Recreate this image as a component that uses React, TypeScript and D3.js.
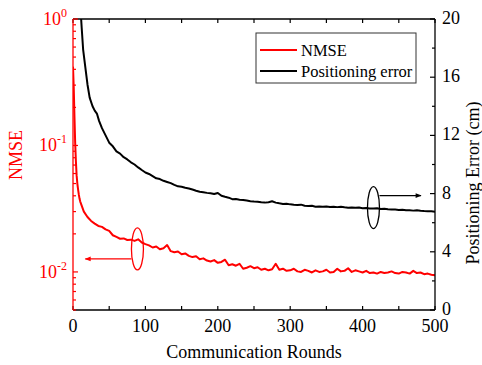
import React from 'react';
import * as d3 from 'd3';

const nmseRounds = [0,1,2,3,4,5,6,7,8,9,10,15,20,25,30,35,40,45,50,55,60,65,70,75,80,85,90,95,100,105,110,115,120,125,130,135,140,145,150,155,160,165,170,175,180,185,190,195,200,205,210,215,220,225,230,235,240,245,250,255,260,265,270,275,280,285,290,295,300,305,310,315,320,325,330,335,340,345,350,355,360,365,370,375,380,385,390,395,400,405,410,415,420,425,430,435,440,445,450,455,460,465,470,475,480,485,490,495,500];
const nmseValues = [0.42,0.29,0.17,0.105,0.075,0.058,0.05,0.045,0.041,0.038,0.036,
  0.030,0.0272,0.0253,0.0241,0.0231,0.0227,0.0217,0.0211,0.0195,0.0189,0.0183,0.0184,0.0179,0.0180,0.0176,0.0181,
  0.0171,0.0166,0.0162,0.0156,0.0159,0.0151,0.0154,0.0163,0.0146,0.0143,0.0145,0.0138,0.0140,0.0134,0.0131,0.0133,
  0.0126,0.0128,0.0123,0.0121,0.0124,0.0118,0.0120,0.0125,0.0113,0.0115,0.0112,0.0116,0.0106,0.0108,0.0111,0.0107,
  0.0109,0.0104,0.0106,0.0103,0.0105,0.0116,0.0104,0.0106,0.0102,0.0103,0.0106,0.0101,0.0100,0.0104,0.0102,0.0099,
  0.0103,0.0100,0.0101,0.0104,0.0099,0.0100,0.0106,0.0101,0.0102,0.0107,0.0100,0.0103,0.0101,0.0099,0.0102,0.0098,
  0.0099,0.0097,0.0100,0.0098,0.0099,0.0101,0.0098,0.0097,0.0100,0.0099,0.0097,0.0102,0.0098,0.0099,0.0096,0.0097,
  0.0095,0.0094];

const errRounds = [10,12,14,17,20,23,27,30,33,36,40,45,50,55,60,65,70,75,80,85,90,95,100,105,110,115,120,125,130,135,140,145,150,155,160,165,170,175,180,185,190,195,200,205,210,215,220,225,230,235,240,245,250,255,260,265,270,275,280,285,290,295,300,305,310,315,320,325,330,335,340,345,350,355,360,365,370,375,380,385,390,395,400,405,410,415,420,425,430,435,440,445,450,455,460,465,470,475,480,485,490,495,500];
const errValues = [21.0,19.4,17.9,16.7,15.5,14.6,14.0,13.7,13.5,13.0,12.5,12.0,11.5,11.25,10.9,10.75,10.5,10.35,10.15,10.0,9.8,9.62,9.45,9.35,9.2,9.05,9.0,8.88,8.8,8.72,8.6,8.5,8.47,8.40,8.35,8.28,8.2,8.13,8.1,8.05,8.02,7.97,8.04,7.85,7.78,7.72,7.62,7.63,7.58,7.56,7.52,7.48,7.45,7.44,7.40,7.38,7.41,7.47,7.38,7.33,7.29,7.30,7.26,7.23,7.22,7.24,7.17,7.15,7.16,7.10,7.12,7.09,7.12,7.08,7.10,7.07,7.10,7.06,7.03,7.05,7.02,7.04,6.99,7.01,6.98,6.97,6.99,6.94,6.96,6.93,6.91,6.90,6.88,6.89,6.86,6.85,6.83,6.86,6.82,6.80,6.79,6.78,6.76];

const xTickLabels = [0,100,200,300,400,500];
const xMinorTicks = [50,150,250,350,450];
const leftMajor = [{v:1,e:'0'},{v:0.1,e:'-1'},{v:0.01,e:'-2'}];
const rightTickLabels = [0,4,8,12,16,20];
const rightMinor = [2,6,10,14,18];
const legendLabels = ['NMSE','Positioning error'];
const xTitle = 'Communication Rounds';
const yLeftTitle = 'NMSE';
const yRightTitle = 'Positioning Error (cm)';

const RED = '#ff0000';
const FONT = '"Liberation Serif", Tinos, "Times New Roman", Times, serif';

export default function App() {
  const W = 482, H = 365;
  const L = 73, R = 435, T = 19, B = 310;
  const x = d3.scaleLinear().domain([0, 500]).range([L, R]);
  const yL = d3.scaleLog().domain([0.005, 1]).range([B, T]);
  const yR = d3.scaleLinear().domain([0, 20]).range([B, T]);

  const nN = Math.min(nmseRounds.length, nmseValues.length);
  const nE = Math.min(errRounds.length, errValues.length);
  const redPts = d3.range(nN).map(i => [nmseRounds[i], nmseValues[i]] as [number, number]);
  const blkPts = d3.range(nE).map(i => [errRounds[i], errValues[i]] as [number, number]);
  const redLine = d3.line<[number, number]>().x(d => x(d[0])).y(d => yL(d[1]))(redPts) || '';
  const blackLine = d3.line<[number, number]>().x(d => x(d[0])).y(d => yR(d[1]))(blkPts) || '';

  const leftMinor: number[] = [];
  [0.001, 0.01, 0.1].forEach(dec => {
    for (let k = 2; k <= 9; k++) {
      const v = dec * k;
      if (v >= 0.005 && v <= 1) leftMinor.push(v);
    }
  });

  const redEll = { cx: x(89), cy: yL(0.0152) };
  const blkEll = { cx: x(415), cy: yR(7.04) };

  return (
    <svg width={W} height={H} style={{ position: 'absolute', left: 0, top: 0, background: '#fff', fontFamily: FONT }}>
      <defs>
        <clipPath id="plot"><rect x={L} y={T} width={R - L} height={B - T} /></clipPath>
        <marker id="arrR" viewBox="0 0 10 10" refX="9" refY="5" markerWidth="8" markerHeight="6" orient="auto" markerUnits="userSpaceOnUse">
          <path d="M0,1 L10,5 L0,9 z" fill={RED} />
        </marker>
        <marker id="arrB" viewBox="0 0 10 10" refX="9" refY="5" markerWidth="8" markerHeight="6" orient="auto" markerUnits="userSpaceOnUse">
          <path d="M0,1 L10,5 L0,9 z" fill="#000" />
        </marker>
      </defs>

      <g clipPath="url(#plot)">
        <path d={blackLine} fill="none" stroke="#000" strokeWidth={2} strokeLinejoin="round" />
        <path d={redLine} fill="none" stroke={RED} strokeWidth={2} strokeLinejoin="round" />
      </g>

      <line x1={L} x2={R} y1={T} y2={T} stroke="#000" strokeWidth={1.3} />
      <line x1={L} x2={R} y1={B} y2={B} stroke="#000" strokeWidth={1.3} />
      {[...xTickLabels, ...xMinorTicks].map(t => (
        <g key={'xt' + t}>
          <line x1={x(t)} x2={x(t)} y1={B} y2={B - 4} stroke="#000" strokeWidth={1.2} />
          <line x1={x(t)} x2={x(t)} y1={T} y2={T + 4} stroke="#000" strokeWidth={1.2} />
        </g>
      ))}
      {xTickLabels.map(t => (
        <text key={'xl' + t} x={x(t)} y={B + 22} fontSize={18} textAnchor="middle" fill="#000">{t}</text>
      ))}
      <text x={254} y={358} fontSize={18} textAnchor="middle" fill="#000">{xTitle}</text>

      <line x1={R} x2={R} y1={T} y2={B} stroke="#000" strokeWidth={1.3} />
      {rightTickLabels.map(t => (
        <g key={'rt' + t}>
          <line x1={R} x2={R - 5} y1={yR(t)} y2={yR(t)} stroke="#000" strokeWidth={1.2} />
          <text x={R + 7} y={yR(t) + 5} fontSize={18} fill="#000">{t}</text>
        </g>
      ))}
      {rightMinor.map(t => (
        <line key={'rm' + t} x1={R} x2={R - 3} y1={yR(t)} y2={yR(t)} stroke="#000" strokeWidth={1.2} />
      ))}
      <text transform={`translate(479,183) rotate(-90)`} fontSize={18} textAnchor="middle" fill="#000">{yRightTitle}</text>

      <line x1={L} x2={L} y1={T} y2={B} stroke={RED} strokeWidth={1.3} />
      {leftMajor.map(t => (
        <g key={'lt' + t.e}>
          <line x1={L} x2={L + 5} y1={yL(t.v)} y2={yL(t.v)} stroke={RED} strokeWidth={1.2} />
          <text x={L - 6} y={yL(t.v) + 6} fontSize={18} textAnchor="end" fill={RED}>
            10<tspan dy={-8} fontSize={12}>{t.e}</tspan>
          </text>
        </g>
      ))}
      {leftMinor.map(v => (
        <line key={'lm' + v} x1={L} x2={L + 3} y1={yL(v)} y2={yL(v)} stroke={RED} strokeWidth={1.2} />
      ))}
      <text transform={`translate(22,155) rotate(-90)`} fontSize={18} textAnchor="middle" fill={RED}>{yLeftTitle}</text>

      <ellipse cx={redEll.cx} cy={redEll.cy} rx={6} ry={21} fill="none" stroke={RED} strokeWidth={1.3} />
      <line x1={redEll.cx - 6} x2={x(17)} y1={redEll.cy + 10} y2={redEll.cy + 10} stroke={RED} strokeWidth={1.3} markerEnd="url(#arrR)" />
      <ellipse cx={blkEll.cx} cy={blkEll.cy} rx={6} ry={21} fill="none" stroke="#000" strokeWidth={1.3} />
      <line x1={blkEll.cx + 6} x2={R - 14} y1={blkEll.cy - 12} y2={blkEll.cy - 12} stroke="#000" strokeWidth={1.3} markerEnd="url(#arrB)" />

      <rect x={256} y={33} width={160} height={50} fill="#fff" stroke="#333" strokeWidth={1} />
      <line x1={260} x2={297} y1={50} y2={50} stroke={RED} strokeWidth={2} />
      <text x={301} y={56} fontSize={16.5} fill="#000">{legendLabels[0]}</text>
      <line x1={260} x2={297} y1={71} y2={71} stroke="#000" strokeWidth={2} />
      <text x={301} y={77} fontSize={16.5} fill="#000">{legendLabels[1]}</text>
    </svg>
  );
}
